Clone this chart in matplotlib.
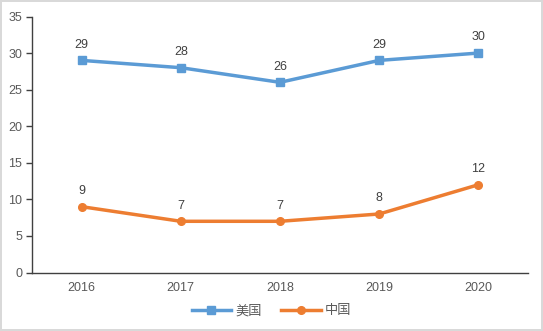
import matplotlib
matplotlib.use('Agg')
import matplotlib.pyplot as plt

plt.rcParams['font.family'] = ['Liberation Sans', 'Noto Sans CJK SC', 'DejaVu Sans']

# data
years = ['2016', '2017', '2018', '2019', '2020']
usa = [29, 28, 26, 29, 30]
china = [9, 7, 7, 8, 12]
series_names = ['美国', '中国']

blue = '#5B9BD5'
orange = '#ED7D31'
txt = '#595959'

fig = plt.figure(figsize=(5.43, 3.31), dpi=100)
fig.patch.set_edgecolor('#D9D9D9')
fig.patch.set_linewidth(1.5)
ax = fig.add_axes([32/543, 1-272.5/331, 496/543, 256/331])

x = range(len(years))
ax.plot(x, usa, color=blue, lw=2.5, marker='s', ms=5.5, label=series_names[0])
ax.plot(x, china, color=orange, lw=2.5, marker='o', ms=5.5, label=series_names[1])

for i in x:
    ax.annotate(str(usa[i]), (i, usa[i]), xytext=(0, 7), textcoords='offset points',
                ha='center', va='bottom', fontsize=9, color='#404040')
    ax.annotate(str(china[i]), (i, china[i]), xytext=(0, 7), textcoords='offset points',
                ha='center', va='bottom', fontsize=9, color='#404040')

ax.set_xlim(-0.5, len(years) - 0.5)
ax.set_ylim(0, 35)
ax.set_yticks(range(0, 36, 5))
ax.set_xticks(list(x))
ax.set_xticklabels(years)
ax.tick_params(axis='x', length=0, labelsize=9, labelcolor=txt, pad=7)
ax.tick_params(axis='y', length=4, width=1, labelsize=9, labelcolor=txt, color='#404040', pad=3)
for s in ['top', 'right']:
    ax.spines[s].set_visible(False)
ax.spines['left'].set_color('#404040')
ax.spines['bottom'].set_color('#404040')
ax.spines['left'].set_linewidth(1)
ax.spines['bottom'].set_linewidth(1)

leg = fig.legend(loc='center', bbox_to_anchor=(0.5, 1-311/331), ncol=2, frameon=False,
                 fontsize=9.5, handlelength=3, columnspacing=1.5, handletextpad=0.3)
for t in leg.get_texts():
    t.set_color(txt)

fig.savefig('out.png', dpi=100, edgecolor=fig.get_edgecolor())
